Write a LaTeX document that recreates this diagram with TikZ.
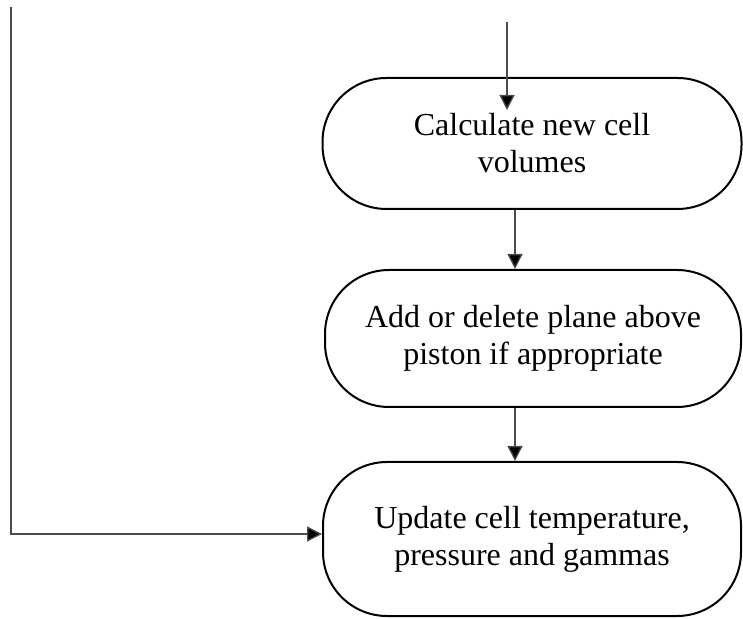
\documentclass[tikz,border=0pt]{standalone}
\usepackage{fontspec}
\setmainfont{Liberation Serif}
\usetikzlibrary{arrows.meta}

\tikzset{
    stepbox/.style={draw, line width=2pt, rounded corners=64pt, align=center,
        inner sep=0pt, font=\fontsize{32}{37}\selectfont},
    flow/.style={line width=1.3pt, black!70, -{Triangle[length=15pt,width=15pt,fill=black]}}
}

\begin{document}
\begin{tikzpicture}[x=1pt, y=1pt]
    \useasboundingbox (0,0) rectangle (743,618);

    % Steps
    \node[stepbox, minimum width=419pt, minimum height=131pt] (calc) at (532,474.5)
        {Calculate new cell\\volumes};
    \node[stepbox, minimum width=416pt, minimum height=137pt] (plane) at (533,279.5)
        {Add or delete plane above\\piston if appropriate};
    \node[stepbox, minimum width=418pt, minimum height=154pt] (update) at (532,79)
        {Update cell temperature,\\pressure and gammas};

    % Free ends
    \coordinate (entry) at (507,596);
    \coordinate (entrytip) at (507,508);
    \coordinate (back) at (11,611);

    % Connectors
    \draw[flow] (entry) -- (entrytip);
    \draw[flow] ([xshift=-17pt]calc.south) -- ([xshift=-18pt]plane.north);
    \draw[flow] ([xshift=-18pt]plane.south) -- ([xshift=-17pt]update.north);
    \draw[flow] (back) |- ([yshift=5pt]update.west);
\end{tikzpicture}
\end{document}
